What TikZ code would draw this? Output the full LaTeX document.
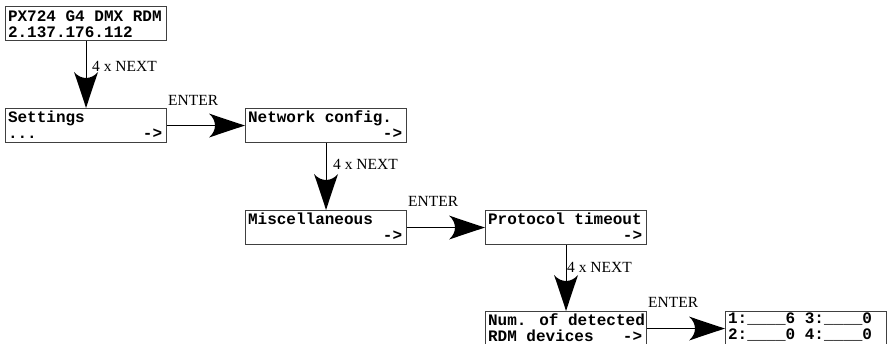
\documentclass[tikz,border=0pt]{standalone}
\usepackage{fontspec}
\setmainfont{Liberation Serif}
\newfontfamily\lcdfont{Liberation Mono}
\usetikzlibrary{arrows.meta}

\pgfdeclarearrow{
  name = LCDhead,
  setup code = {
    \pgfarrowssettipend{0pt}
    \pgfarrowssetlineend{-29pt}
    \pgfarrowssetbackend{-36pt}
    \pgfarrowshullpoint{0pt}{0pt}
    \pgfarrowshullpoint{-36pt}{12pt}
    \pgfarrowshullpoint{-36pt}{-12pt}
  },
  drawing code = {
    \pgfpathmoveto{\pgfqpoint{0pt}{0pt}}
    \pgfpathcurveto{\pgfqpoint{-20pt}{6.5pt}}{\pgfqpoint{-33pt}{11pt}}{\pgfqpoint{-36pt}{12pt}}
    \pgfpathcurveto{\pgfqpoint{-28pt}{5pt}}{\pgfqpoint{-28pt}{-5pt}}{\pgfqpoint{-36pt}{-12pt}}
    \pgfpathcurveto{\pgfqpoint{-33pt}{-11pt}}{\pgfqpoint{-20pt}{-6.5pt}}{\pgfqpoint{0pt}{0pt}}
    \pgfpathclose
    \pgfusepathqfill
  },
}

% #1 first baseline, #2 line 1, #3 line 2 left, #4 line 2 right
\newcommand\lcdtext[4]{%
  \vbox to 34pt{\hsize=161pt
    \kern#1\nointerlineskip
    \hbox to\hsize{\hskip2.5pt\smash{#2}\hfil}%
    \kern16pt\nointerlineskip
    \hbox to\hsize{\hskip2.5pt\smash{#3}\hfil\smash{#4}\hskip4.4pt}%
    \vfil}}

\tikzset{
  lcd/.style={draw=black!75, line width=1.1pt, inner sep=0pt, anchor=north west,
    font=\lcdfont\bfseries\fontsize{16}{16}\selectfont},
  conn/.style={draw=black, line width=0.9pt, -{LCDhead}},
  keylabel/.style={inner sep=0pt, anchor=base west, font=\fontsize{15.5}{16}\selectfont},
}

\begin{document}
\begin{tikzpicture}[x=1pt, y=-1pt]
  \useasboundingbox (0,0) rectangle (887,344);

  \node[lcd] (b1) at (5,6)     {\lcdtext{15pt}{PX724 G4 DMX RDM}{2.137.176.112}{}};
  \node[lcd] (b2) at (5,108)   {\lcdtext{14pt}{Settings}{...}{->}};
  \node[lcd] (b3) at (245,108) {\lcdtext{14pt}{Network config.}{}{->}};
  \node[lcd] (b4) at (245,210) {\lcdtext{14pt}{Miscellaneous}{}{->}};
  \node[lcd] (b5) at (485,210) {\lcdtext{14pt}{Protocol timeout}{}{->}};
  \node[lcd] (b6) at (485,311) {\lcdtext{14pt}{Num. of detected}{RDM devices}{->}};
  \node[lcd] (b7) at (725,311) {\lcdtext{12pt}{1:\_\_\_\_6 3:\_\_\_\_0}{2:\_\_\_\_0 4:\_\_\_\_0}{}};

  \draw[conn] (b1.south) -- (b2.north);
  \draw[conn] (b2.east) -- (b3.west);
  \draw[conn] (b3.south) -- (b4.north);
  \draw[conn] (b4.east) -- (b5.west);
  \draw[conn] (b5.south) -- (b6.north);
  \draw[conn] (b6.east) -- (b7.west);

  \node[keylabel] (l1) at (92,72)  {4 x NEXT};
  \node[keylabel] (l2) at (333,170) {4 x NEXT};
  \node[keylabel] (l3) at (567,273) {4 x NEXT};
  \node[keylabel] (e1) at (168,106) {ENTER};
  \node[keylabel] (e2) at (408,207) {ENTER};
  \node[keylabel] (e3) at (648,308) {ENTER};
\end{tikzpicture}
\end{document}
